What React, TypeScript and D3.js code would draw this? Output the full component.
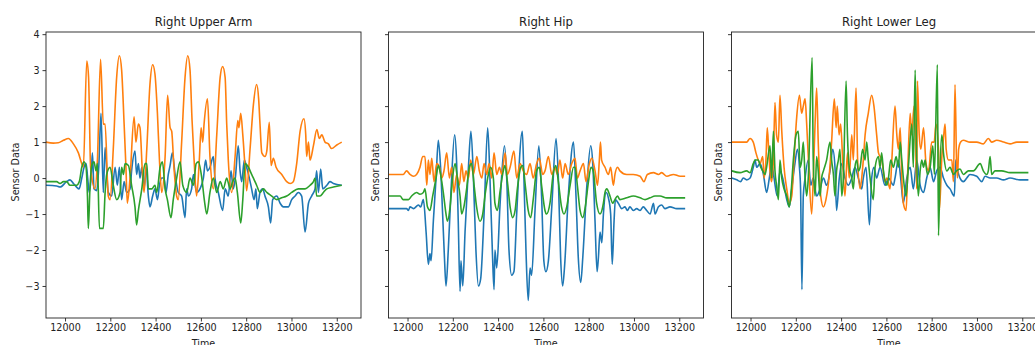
import React, { useEffect, useRef } from 'react';
import * as d3 from 'd3';

type Pt = [number, number];

const panelTitles = ['Right Upper Arm', 'Right Hip', 'Right Lower Leg'];
const xTicks = [12000, 12200, 12400, 12600, 12800, 13000, 13200];
const yTicks = [-3, -2, -1, 0, 1, 2, 3, 4];
const seriesColors = ['#1f77b4', '#ff7f0e', '#2ca02c'];

// Right Upper Arm
const upperArmBlue: Pt[] = [
  [11916, -0.2], [11963, -0.22], [11978, -0.25], [12007, -0.1], [12022, -0.05], [12037, -0.15], [12051, -0.25],
  [12062, -0.3], [12074, 0.0], [12084, 0.3], [12093, 0.4], [12100, 0.0], [12107, -0.4], [12115, 0.0], [12121, 0.7],
  [12128, -0.3], [12140, -0.35], [12149, 0.3], [12159, 1.8], [12169, -0.4], [12177, 0.85], [12191, -0.4],
  [12206, -0.5], [12221, 0.3], [12231, -0.2], [12240, 0.3], [12250, -0.6], [12261, -0.1], [12272, -0.4],
  [12287, -0.3], [12294, 0.2], [12309, 0.75], [12316, 0.1], [12324, 0.4], [12331, 0.0], [12339, 0.3],
  [12349, -0.3], [12358, 0.3], [12368, -0.5], [12375, -0.8], [12387, -0.5], [12397, -0.3], [12408, -0.6],
  [12417, -0.2], [12427, 0.0], [12437, 0.0], [12446, -0.4], [12456, 0.1], [12464, 0.35], [12474, 0.7],
  [12486, 0.1], [12500, -0.4], [12515, -0.5], [12530, -1.1], [12537, -0.3], [12545, -0.5], [12559, -0.3],
  [12567, 0.1], [12581, -0.4], [12596, -0.3], [12611, 0.0], [12621, 0.5], [12629, 0.2], [12640, 0.3],
  [12655, 0.6], [12662, 0.0], [12677, -0.4], [12696, -0.9], [12707, -0.3], [12721, -0.5], [12733, 0.2],
  [12743, -0.3], [12752, 0.0], [12765, 0.9], [12773, 0.2], [12780, -0.1], [12792, 0.5], [12802, 0.3],
  [12814, 0.0], [12824, -0.3], [12835, -0.6], [12843, -0.3], [12849, -0.85], [12861, -0.4], [12873, -0.3],
  [12883, -0.5], [12898, -0.8], [12908, -1.25], [12917, -0.6], [12935, -0.5], [12950, -0.7], [12964, -0.8],
  [12986, -0.8], [13001, -0.6], [13016, -0.5], [13030, -0.4], [13045, -0.5], [13060, -1.5], [13075, -0.7],
  [13089, -0.5], [13104, -0.3], [13111, 0.2], [13119, -0.4], [13129, 0.25], [13138, -0.3], [13156, -0.2],
  [13170, -0.1], [13185, -0.15], [13222, -0.2],
];
const upperArmOrange: Pt[] = [
  [11916, 1.0], [11948, 0.97], [11970, 0.98], [11993, 1.05], [12015, 1.1], [12037, 0.95], [12059, 0.7],
  [12074, 0.4], [12081, 0.3], [12096, 3.25], [12104, 2.8], [12113, 0.3], [12132, -0.3], [12143, 0.5],
  [12157, 3.3], [12169, 1.5], [12177, 1.5], [12191, -0.5], [12199, -0.6], [12213, 0.8], [12228, 2.8],
  [12240, 3.4], [12250, 3.0], [12261, 1.5], [12269, 0.3], [12275, -0.7], [12287, 0.0], [12305, 1.7],
  [12313, 1.0], [12324, 1.5], [12331, 1.4], [12343, 0.0], [12349, -0.4], [12361, 0.8], [12375, 2.6],
  [12387, 3.15], [12397, 2.9], [12408, 1.8], [12417, 0.5], [12427, -0.4], [12442, 0.6], [12453, 2.3],
  [12464, 1.4], [12471, 1.3], [12481, 0.3], [12493, -0.5], [12500, -0.6], [12515, 1.0], [12530, 2.8],
  [12542, 3.4], [12552, 3.0], [12561, 1.6], [12570, 0.5], [12581, -0.5], [12593, 0.5], [12601, 1.4],
  [12608, 1.0], [12614, 1.5], [12629, 2.2], [12640, 0.6], [12655, -0.3], [12670, 1.2], [12685, 2.8],
  [12696, 3.1], [12707, 2.8], [12714, 1.5], [12721, 0.5], [12736, -0.4], [12751, 0.6], [12763, 1.6],
  [12768, 1.4], [12776, 1.8], [12785, 1.2], [12795, 0.3], [12802, -0.35], [12817, 0.8], [12832, 2.05],
  [12846, 2.6], [12855, 2.2], [12861, 1.5], [12869, 0.7], [12883, 0.6], [12891, 0.75], [12902, 1.55],
  [12910, 0.35], [12920, 0.55], [12932, 0.3], [12957, 0.1], [12979, -0.1], [12994, -0.15], [13008, -0.1],
  [13023, 0.4], [13038, 1.3], [13055, 1.65], [13063, 1.2], [13067, 0.6], [13075, 1.0], [13082, 0.5],
  [13097, 0.9], [13112, 1.35], [13123, 1.1], [13134, 1.2], [13148, 1.0], [13163, 0.95], [13177, 0.82],
  [13200, 0.92], [13222, 1.0],
];
const upperArmGreen: Pt[] = [
  [11916, -0.1], [11963, -0.1], [11978, -0.15], [11993, -0.1], [12007, -0.1], [12022, -0.2], [12051, -0.2],
  [12063, -0.1], [12074, 0.3], [12084, 0.45], [12093, 0.3], [12099, -0.5], [12103, -1.4], [12110, -0.3],
  [12118, 0.35], [12128, 0.45], [12137, 0.2], [12143, 0.4], [12152, -1.4], [12162, -1.4], [12169, -1.4],
  [12177, -0.4], [12184, 0.1], [12199, 0.3], [12213, -0.2], [12228, -0.6], [12243, -0.4], [12250, 0.3],
  [12258, 0.1], [12265, 0.4], [12280, 0.35], [12294, -0.2], [12309, -0.8], [12316, -1.3], [12324, -0.9],
  [12339, -0.3], [12353, 0.4], [12361, 0.4], [12368, -0.3], [12383, -0.3], [12397, -0.2], [12405, -0.4],
  [12420, 0.3], [12430, 0.45], [12442, -0.3], [12452, -0.6], [12468, -1.1], [12478, -0.6], [12493, 0.0],
  [12508, 0.45], [12520, -0.2], [12537, -0.4], [12552, 0.0], [12567, -0.2], [12579, 0.4], [12589, 0.45],
  [12604, 0.0], [12615, -0.6], [12626, -1.0], [12640, -0.4], [12655, 0.0], [12670, -0.4], [12685, -0.1],
  [12699, -0.3], [12714, 0.0], [12729, -0.3], [12740, -0.1], [12751, 0.0], [12761, -0.4], [12776, -1.25],
  [12785, -0.6], [12795, 0.4], [12810, 0.3], [12824, 0.1], [12832, 0.0], [12846, -0.2], [12861, -0.4],
  [12876, -0.3], [12891, -0.4], [12913, -0.5], [12935, -0.6], [12957, -0.55], [12979, -0.5], [13001, -0.4],
  [13030, -0.3], [13060, -0.3], [13082, -0.2], [13097, -0.1], [13104, 0.0], [13111, -0.5], [13126, -0.5],
  [13141, -0.4], [13156, -0.3], [13185, -0.25], [13222, -0.2],
];

// Right Hip
const hipBlue: Pt[] = [
  [11917, -0.85], [11996, -0.85], [12004, -0.9], [12011, -0.8], [12026, -0.85], [12048, -0.75], [12058, -0.8],
  [12070, -0.6], [12082, -1.5], [12092, -2.4], [12099, -2.1], [12104, -2.3], [12114, -1.2], [12126, 0.0],
  [12136, 1.05], [12146, 0.3], [12155, -1.0], [12163, -2.2], [12170, -3.0], [12180, -2.0], [12191, -0.5],
  [12208, 1.2], [12217, 0.4], [12224, -1.2], [12232, -3.15], [12236, -2.3], [12244, -3.0], [12254, -1.5],
  [12269, 0.3], [12280, 1.3], [12291, 0.0], [12302, -2.0], [12313, -3.0], [12323, -2.8], [12338, -1.0],
  [12354, 1.4], [12364, 0.0], [12375, -2.1], [12382, -3.1], [12386, -2.0], [12394, -2.5], [12408, -0.8],
  [12428, 0.9], [12438, 0.0], [12448, -2.0], [12460, -2.7], [12470, -2.6], [12482, -1.0], [12507, 1.3],
  [12514, 0.0], [12523, -2.0], [12533, -3.4], [12541, -2.5], [12548, -2.7], [12563, -0.9], [12580, 0.9],
  [12592, -0.5], [12602, -2.3], [12611, -2.6], [12622, -2.3], [12637, -0.8], [12656, 1.1], [12666, 0.0],
  [12676, -2.2], [12685, -3.0], [12693, -2.5], [12710, -0.5], [12733, 1.0], [12744, -0.5], [12754, -2.2],
  [12765, -2.9], [12774, -2.2], [12791, -0.3], [12809, 0.9], [12818, 0.4], [12828, -1.2], [12837, -2.6],
  [12843, -2.2], [12850, -1.5], [12858, -1.8], [12865, -1.0], [12877, -0.4], [12887, -0.55], [12897, -1.0],
  [12904, -2.4], [12912, -1.2], [12918, -0.6], [12931, -0.7], [12946, -0.85], [12960, -0.8], [12971, -0.9],
  [12982, -0.8], [12997, -0.9], [13012, -0.85], [13027, -0.9], [13041, -0.8], [13056, -0.9], [13071, -1.0],
  [13086, -0.7], [13093, -1.0], [13108, -0.8], [13122, -0.75], [13137, -0.85], [13159, -0.8], [13189, -0.85],
  [13226, -0.85],
];
const hipOrange: Pt[] = [
  [11917, 0.1], [11981, 0.1], [11996, 0.2], [12011, 0.1], [12026, 0.05], [12040, 0.1], [12055, 0.3],
  [12067, 0.6], [12077, 0.6], [12085, -0.2], [12092, 0.5], [12099, 0.1], [12107, 0.55], [12117, -0.1],
  [12129, 0.4], [12141, 0.3], [12151, 0.0], [12161, 0.2], [12173, 0.7], [12185, 0.0], [12195, 0.3],
  [12205, -0.4], [12217, 0.1], [12229, -0.2], [12239, 0.4], [12249, -0.1], [12258, 0.2], [12269, 0.0],
  [12279, 0.5], [12291, 0.1], [12306, 0.6], [12317, 0.2], [12328, 0.0], [12338, 0.4], [12350, 0.1],
  [12360, 0.4], [12372, 0.0], [12382, 0.7], [12394, 0.1], [12406, 0.3], [12416, 0.1], [12431, 0.7],
  [12441, 0.1], [12453, 0.3], [12470, 0.75], [12482, 0.0], [12497, 0.4], [12511, 0.2], [12526, 0.1],
  [12541, 0.4], [12555, 0.0], [12570, 0.4], [12582, 0.55], [12597, 0.1], [12607, 0.2], [12622, 0.6],
  [12637, 0.1], [12651, 0.3], [12662, 0.1], [12673, 0.5], [12685, 0.0], [12696, 0.4], [12710, 0.1],
  [12725, 0.4], [12740, 0.55], [12750, 0.0], [12762, 0.2], [12777, 0.4], [12788, -0.1], [12803, 0.4],
  [12814, 0.55], [12828, 0.2], [12839, -0.2], [12847, 0.5], [12852, 1.0], [12857, 0.5], [12872, 0.3],
  [12887, 0.1], [12897, 0.3], [12909, -0.2], [12916, 0.1], [12927, 0.3], [12938, 0.2], [12968, 0.1],
  [12997, 0.1], [13027, 0.05], [13044, -0.1], [13059, 0.1], [13086, 0.15], [13108, 0.1], [13122, 0.15],
  [13145, 0.05], [13174, 0.1], [13204, 0.05], [13226, 0.05],
];
const hipGreen: Pt[] = [
  [11917, -0.5], [11967, -0.5], [11981, -0.6], [12004, -0.6], [12018, -0.5], [12040, -0.4], [12055, -0.45],
  [12070, -0.4], [12077, -0.3], [12088, -0.8], [12099, -0.9], [12111, -0.5], [12126, 0.0], [12136, 0.35],
  [12146, 0.1], [12158, -0.4], [12170, -1.0], [12176, -1.2], [12188, -0.8], [12199, 0.0], [12210, 0.4],
  [12220, 0.0], [12232, -0.5], [12239, -1.0], [12249, -0.8], [12261, -0.3], [12273, 0.3], [12283, 0.4],
  [12294, -0.2], [12305, -0.8], [12320, -1.2], [12332, -1.0], [12344, -0.4], [12357, 0.1], [12367, 0.3],
  [12379, 0.0], [12386, -0.7], [12397, -0.9], [12408, -0.4], [12423, 0.2], [12430, 0.35], [12441, -0.1],
  [12453, -0.8], [12464, -1.1], [12475, -0.9], [12485, -0.3], [12500, 0.3], [12509, 0.35], [12520, -0.2],
  [12533, -0.9], [12544, -1.1], [12555, -0.6], [12570, 0.2], [12582, 0.3], [12592, -0.2], [12607, -0.9],
  [12614, -1.0], [12629, -0.7], [12643, 0.1], [12655, 0.35], [12666, -0.1], [12680, -0.8], [12691, -1.0],
  [12703, -0.8], [12718, -0.2], [12733, 0.3], [12740, 0.3], [12750, -0.2], [12762, -0.9], [12774, -1.1],
  [12785, -0.8], [12799, -0.1], [12810, 0.3], [12820, 0.2], [12835, -0.7], [12850, -1.0], [12865, -0.7],
  [12872, -0.4], [12880, -0.3], [12894, -0.5], [12906, -0.7], [12916, -0.6], [12927, -0.5], [12938, -0.6],
  [12968, -0.55], [12997, -0.5], [13027, -0.55], [13049, -0.6], [13071, -0.55], [13093, -0.5], [13115, -0.5],
  [13145, -0.55], [13174, -0.55], [13226, -0.55],
];

// Right Lower Leg
const lowerLegBlue: Pt[] = [
  [11917, 0.0], [11939, -0.05], [11956, -0.1], [11968, 0.0], [11983, -0.05], [11998, 0.0], [12012, 0.3],
  [12020, 0.5], [12027, 0.3], [12042, 0.4], [12057, 0.1], [12071, -0.4], [12083, 0.0], [12093, 0.4],
  [12104, 0.0], [12118, -0.5], [12130, 0.2], [12142, 0.0], [12160, -0.6], [12171, -0.8], [12182, -0.3],
  [12196, 0.4], [12207, 0.8], [12216, 0.3], [12221, -0.3], [12227, -3.1], [12233, -0.5], [12241, 0.0],
  [12255, 0.5], [12266, -0.2], [12277, 0.0], [12292, -0.5], [12307, -0.3], [12322, 0.0], [12336, -0.2],
  [12351, 0.2], [12363, 0.8], [12373, 0.3], [12380, -0.9], [12392, 0.0], [12403, 0.4], [12417, 0.0],
  [12432, -0.2], [12447, 0.0], [12461, 0.3], [12476, 0.0], [12491, -0.3], [12498, 0.0], [12510, 0.3],
  [12525, -1.3], [12535, 0.0], [12545, 0.3], [12557, 0.0], [12572, 0.3], [12594, -0.2], [12609, 0.0],
  [12631, -0.2], [12638, 0.0], [12653, 0.5], [12663, 0.0], [12675, -0.7], [12690, 0.0], [12705, 0.3],
  [12719, -0.3], [12734, 0.5], [12749, -0.2], [12764, -0.4], [12778, 0.0], [12793, 0.3], [12808, -0.1],
  [12822, 0.2], [12837, 0.3], [12852, 0.0], [12867, -0.2], [12881, -0.3], [12900, -0.5], [12906, 0.5],
  [12915, 0.2], [12925, 0.0], [12940, -0.1], [12955, 0.0], [12969, 0.1], [12999, 0.05], [13021, -0.1],
  [13036, 0.05], [13058, 0.0], [13087, 0.0], [13117, -0.05], [13146, 0.0], [13190, -0.05], [13227, -0.05],
];
const lowerLegOrange: Pt[] = [
  [11917, 1.0], [11983, 1.0], [11998, 1.1], [12012, 1.0], [12024, 0.7], [12034, 0.5], [12042, 0.4],
  [12054, 0.6], [12060, 0.0], [12068, 0.5], [12074, 1.4], [12080, 0.8], [12086, 0.2], [12093, -0.1],
  [12101, 0.5], [12108, 2.1], [12115, 1.2], [12123, 1.0], [12130, 2.3], [12138, 1.3], [12148, 0.3],
  [12160, -0.3], [12171, -0.7], [12182, -0.5], [12192, 0.5], [12204, 1.7], [12216, 2.3], [12226, 1.8],
  [12233, 2.0], [12241, 2.2], [12248, 1.5], [12255, 0.6], [12270, -1.0], [12277, 0.0], [12285, 1.5],
  [12292, 2.5], [12299, 1.0], [12310, -0.5], [12322, -0.8], [12333, -0.6], [12348, 0.1], [12358, 1.0],
  [12370, 2.2], [12378, 1.4], [12383, 2.0], [12391, 1.2], [12398, 1.5], [12407, 0.5], [12417, -0.5],
  [12428, 0.7], [12436, 0.0], [12447, 1.2], [12454, 0.5], [12466, 2.5], [12473, 0.5], [12484, -0.3],
  [12491, 0.0], [12498, 0.5], [12506, 1.2], [12520, 1.8], [12535, 2.3], [12545, 2.0], [12557, 1.2],
  [12565, 0.7], [12580, 0.5], [12594, -0.1], [12602, 0.0], [12616, -0.3], [12624, 0.5], [12638, 2.0],
  [12646, 1.2], [12653, 0.8], [12661, 1.4], [12668, 0.0], [12675, -0.7], [12687, -0.9], [12693, 0.0],
  [12705, 1.8], [12712, 1.2], [12722, 2.0], [12728, 1.3], [12734, -0.3], [12737, 2.7], [12745, 1.2],
  [12752, 0.8], [12764, 1.4], [12775, 0.4], [12786, 0.2], [12800, 1.0], [12811, 1.0], [12819, 1.5],
  [12830, 0.8], [12834, -0.9], [12845, 0.6], [12852, 1.1], [12859, 1.5], [12864, 0.8], [12874, 0.5],
  [12889, 0.5], [12896, -0.1], [12903, 2.6], [12910, 0.4], [12914, 0.0], [12919, 0.8], [12928, 1.0],
  [12940, 1.05], [12969, 1.0], [12999, 1.0], [13028, 0.95], [13050, 1.1], [13065, 1.0], [13087, 1.05],
  [13117, 1.0], [13146, 0.95], [13176, 1.0], [13205, 1.0], [13227, 1.0],
];
const lowerLegGreen: Pt[] = [
  [11917, 0.2], [11954, 0.15], [11983, 0.2], [11998, 0.15], [12012, 0.4], [12020, 0.5], [12034, 0.5],
  [12045, 0.3], [12054, 0.2], [12064, 0.1], [12071, 0.3], [12086, 0.9], [12093, 0.0], [12101, 1.3],
  [12108, 0.2], [12115, -0.2], [12123, -0.6], [12130, 0.5], [12138, 0.0], [12148, -0.3], [12160, -0.5],
  [12171, -0.8], [12179, -0.4], [12189, 0.5], [12201, 1.2], [12211, 1.3], [12219, 0.3], [12226, 0.5],
  [12233, 1.0], [12241, 0.0], [12248, -0.5], [12255, 0.0], [12272, 3.35], [12277, 0.5], [12285, -0.5],
  [12292, 0.6], [12299, 0.2], [12307, -0.5], [12314, 0.0], [12322, 0.2], [12336, 0.5], [12351, 1.0],
  [12358, 0.5], [12366, 0.1], [12373, -0.5], [12380, 0.2], [12388, 0.5], [12395, 0.8], [12403, -0.5],
  [12410, 0.0], [12422, 2.7], [12428, 1.2], [12436, 0.3], [12447, 0.0], [12454, -0.3], [12461, 0.3],
  [12469, 0.5], [12476, 0.2], [12484, 0.3], [12495, 0.8], [12506, 0.5], [12513, 1.0], [12520, 0.5],
  [12528, 0.0], [12542, -0.6], [12550, 0.3], [12565, 0.6], [12572, 0.3], [12579, 0.7], [12587, 0.2],
  [12602, -0.2], [12609, 0.0], [12619, 0.5], [12631, 0.3], [12643, 0.6], [12653, 0.3], [12661, 1.0],
  [12668, 0.5], [12675, 0.0], [12687, -0.5], [12697, 0.3], [12712, 1.5], [12719, 0.3], [12727, 3.0],
  [12734, 0.5], [12741, -0.5], [12749, 0.2], [12756, 0.5], [12764, 0.3], [12771, 0.5], [12781, 0.1],
  [12793, 0.3], [12805, 0.9], [12812, 0.1], [12825, 3.15], [12830, -1.6], [12837, 0.3], [12845, 1.2],
  [12852, 0.7], [12867, 0.2], [12881, 0.3], [12896, 0.1], [12910, 0.2], [12925, 0.25], [12940, 0.1],
  [12962, 0.2], [12984, 0.2], [13014, 0.4], [13028, 0.2], [13043, 0.1], [13050, 0.2], [13058, 0.6],
  [13065, 0.1], [13080, 0.2], [13109, 0.2], [13146, 0.15], [13190, 0.15], [13227, 0.15],
];

const panelSeries: Pt[][][] = [
  [upperArmBlue, upperArmOrange, upperArmGreen],
  [hipBlue, hipOrange, hipGreen],
  [lowerLegBlue, lowerLegOrange, lowerLegGreen],
];

const font = '"DejaVu Sans", sans-serif';

const App = () => {
  const ref = useRef<SVGSVGElement>(null);

  useEffect(() => {
    const svg = d3.select(ref.current);
    svg.selectAll('*').remove();

    const lefts = [46, 388.5, 731.5];
    const width = 315;
    const top = 32;
    const bottom = 318;
    const ylabelOffset = [31, 13.5, 13.5];

    const x = d3.scaleLinear().domain([11916, 13307]).range([0, width]);
    const y = d3.scaleLinear().domain([-3.89, 4.06]).range([bottom, top]);

    const line = d3.line<Pt>()
      .x(d => x(d[0]))
      .y(d => y(d[1]))
      .curve(d3.curveMonotoneX);

    panelSeries.forEach((series, i) => {
      const g = svg.append('g').attr('transform', `translate(${lefts[i]},0)`);

      g.append('clipPath')
        .attr('id', `clip${i}`)
        .append('rect')
        .attr('x', 0).attr('y', top)
        .attr('width', width).attr('height', bottom - top);

      series.forEach((s, k) => {
        g.append('path')
          .datum(s)
          .attr('clip-path', `url(#clip${i})`)
          .attr('fill', 'none')
          .attr('stroke', seriesColors[k])
          .attr('stroke-width', 1.6)
          .attr('stroke-linejoin', 'round')
          .attr('d', line);
      });

      g.append('rect')
        .attr('x', 0).attr('y', top)
        .attr('width', width).attr('height', bottom - top)
        .attr('fill', 'none')
        .attr('stroke', '#222')
        .attr('stroke-width', 0.9);

      const xAxis = g.append('g')
        .attr('transform', `translate(0,${bottom})`)
        .call(d3.axisBottom(x).tickValues(xTicks).tickSize(3.5).tickPadding(3).tickFormat(d3.format('d')));

      const yAxis = g.append('g')
        .call(d3.axisLeft(y).tickValues(yTicks).tickSize(3.5).tickPadding(3)
          .tickFormat(i === 0 ? d3.format('d') : () => ''));

      [xAxis, yAxis].forEach(a => {
        a.select('.domain').remove();
        a.attr('font-family', font).attr('font-size', 9.6);
        a.selectAll('line').attr('stroke', '#222').attr('stroke-width', 0.9);
        a.selectAll('text').attr('fill', '#222');
      });

      g.append('text')
        .attr('x', width / 2)
        .attr('y', 26)
        .attr('text-anchor', 'middle')
        .attr('font-family', font)
        .attr('font-size', 11.7)
        .attr('fill', '#222')
        .text(panelTitles[i]);

      g.append('text')
        .attr('x', width / 2)
        .attr('y', 347)
        .attr('text-anchor', 'middle')
        .attr('font-family', font)
        .attr('font-size', 9.6)
        .attr('fill', '#222')
        .text('Time');

      g.append('text')
        .attr('transform', `translate(${-ylabelOffset[i]},${(top + bottom) / 2 - 3}) rotate(-90)`)
        .attr('text-anchor', 'middle')
        .attr('dominant-baseline', 'central')
        .attr('font-family', font)
        .attr('font-size', 9.6)
        .attr('fill', '#222')
        .text('Sensor Data');
    });
  }, []);

  return (
    <svg
      ref={ref}
      width={1035}
      height={345}
      style={{ position: 'absolute', left: 0, top: 0, background: '#fff' }}
    />
  );
};

export default App;
